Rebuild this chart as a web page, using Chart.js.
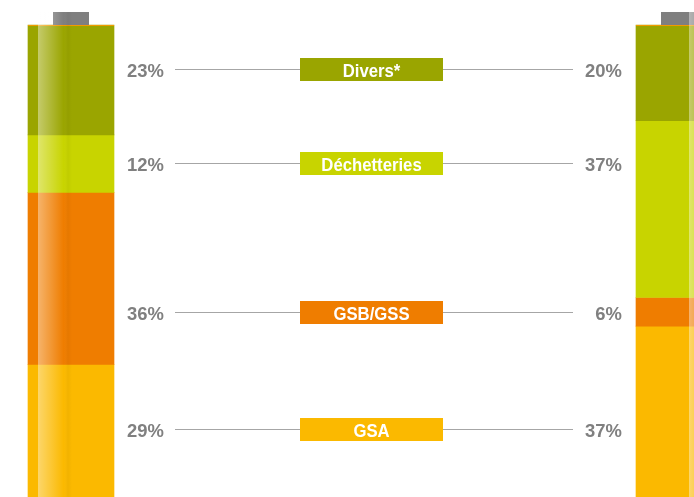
<!DOCTYPE html>
<html>
<head>
<meta charset="utf-8">
<script src="https://cdn.jsdelivr.net/npm/chart.js@4/dist/chart.umd.min.js"></script>
<style>
	html, body { margin: 0; padding: 0; background: #fff; overflow: hidden; }
	#battery { display: block; }
</style>
</head>
<body>
<canvas id="battery" width="694" height="510"></canvas>
<script>
'use strict';

// catégories, du haut vers le bas de la pile
const categories = ['Divers*', 'Déchetteries', 'GSB/GSS', 'GSA'];
const bars = ['gauche', 'droite'];
const leftShares = [23, 12, 36, 29];
const rightShares = [20, 37, 6, 37];

const colors = ['#9aa500', '#c8d400', '#ef7d00', '#fbb900'];
const rowLevels = [9.2, 28.9, 60, 84.5]; // hauteur des étiquettes (en % de l'axe)
const stripeOffsets = [10, 53];
const labelFont = '"Liberation Sans", Arial, sans-serif';

// barres flottantes empilées à la main
function floating(values) {
	let cum = 0;
	return values.map(v => {
		const seg = [cum, cum + v];
		cum += v;
		return seg;
	});
}
const leftSegs = floating(leftShares);
const rightSegs = floating(rightShares);

const datasets = categories.map((name, i) => ({
	label: name,
	data: [leftSegs[i], rightSegs[i]],
	backgroundColor: colors[i],
	borderWidth: 0,
	barThickness: 86,
	grouped: false,
	clip: false
}));

// texte condensé (police étroite absente)
function narrowText(ctx, text, x, y, sx) {
	ctx.save();
	ctx.translate(x, y);
	ctx.scale(sx, 1);
	ctx.fillText(text, 0, 0);
	ctx.restore();
}

const batteryPlugin = {
	id: 'battery',
	afterDatasetsDraw(chart) {
		const ctx = chart.ctx;
		const y = chart.scales.y;
		const top = y.getPixelForValue(0);
		const bottom = y.getPixelForValue(100);
		chart.getDatasetMeta(0).data.forEach((el, j) => {
			const left = el.x - el.width / 2;
			ctx.save();
			// capuchon
			ctx.fillStyle = '#7f7f7f';
			ctx.fillRect(left + 25, top - 13, 36, 13);
			ctx.fillStyle = '#f29a00';
			ctx.fillRect(left, top, el.width, 1);
			// reflet
			const sx = left + stripeOffsets[j];
			const g = ctx.createLinearGradient(sx, 0, sx + 34, 0);
			g.addColorStop(0, 'rgba(255,255,255,0.42)');
			g.addColorStop(0.75, 'rgba(255,255,255,0)');
			g.addColorStop(0.88, 'rgba(0,0,0,0.04)');
			g.addColorStop(1, 'rgba(0,0,0,0)');
			ctx.fillStyle = g;
			ctx.fillRect(sx, top - 13, 34, bottom - top + 13);
			ctx.restore();
		});
	}
};

const labelPlugin = {
	id: 'labels',
	afterDraw(chart) {
		const ctx = chart.ctx;
		const y = chart.scales.y;
		const els = chart.getDatasetMeta(0).data;
		const leftEdge = els[0].x + els[0].width / 2;
		const rightEdge = els[1].x - els[1].width / 2;
		ctx.save();
		categories.forEach((name, i) => {
			const ry = Math.round(y.getPixelForValue(rowLevels[i]));
			ctx.strokeStyle = '#a6a6a6';
			ctx.lineWidth = 1;
			ctx.beginPath();
			ctx.moveTo(leftEdge + 61, ry + 0.5);
			ctx.lineTo(rightEdge - 63, ry + 0.5);
			ctx.stroke();

			ctx.fillStyle = colors[i];
			ctx.fillRect(300, ry - 11, 143, 23);
			ctx.fillStyle = '#fff';
			ctx.font = 'bold 19px ' + labelFont;
			ctx.textAlign = 'center';
			ctx.textBaseline = 'alphabetic';
			narrowText(ctx, name, 371.5, ry + 8, 0.88);

			ctx.fillStyle = '#808080';
			ctx.font = 'bold 19px ' + labelFont;
			ctx.textAlign = 'right';
			narrowText(ctx, leftShares[i] + '%', leftEdge + 50, ry + 8, 0.97);
			narrowText(ctx, rightShares[i] + '%', rightEdge - 14, ry + 8, 0.97);
		});
		ctx.restore();
	}
};

window.addEventListener('load', function() {
	const ctx = document.getElementById('battery').getContext('2d');
	new Chart(ctx, {
		type: 'bar',
		data: { labels: bars, datasets: datasets },
		options: {
			responsive: false,
			animation: false,
			layout: { padding: { top: 25, bottom: 7, left: 71, right: 15 } },
			scales: {
				x: { display: false, offset: false, grid: { display: false } },
				y: { display: false, min: 0, max: 100, reverse: true }
			},
			plugins: { legend: { display: false }, tooltip: { enabled: false } }
		},
		plugins: [batteryPlugin, labelPlugin]
	});
}, false);
</script>
</body>
</html>
